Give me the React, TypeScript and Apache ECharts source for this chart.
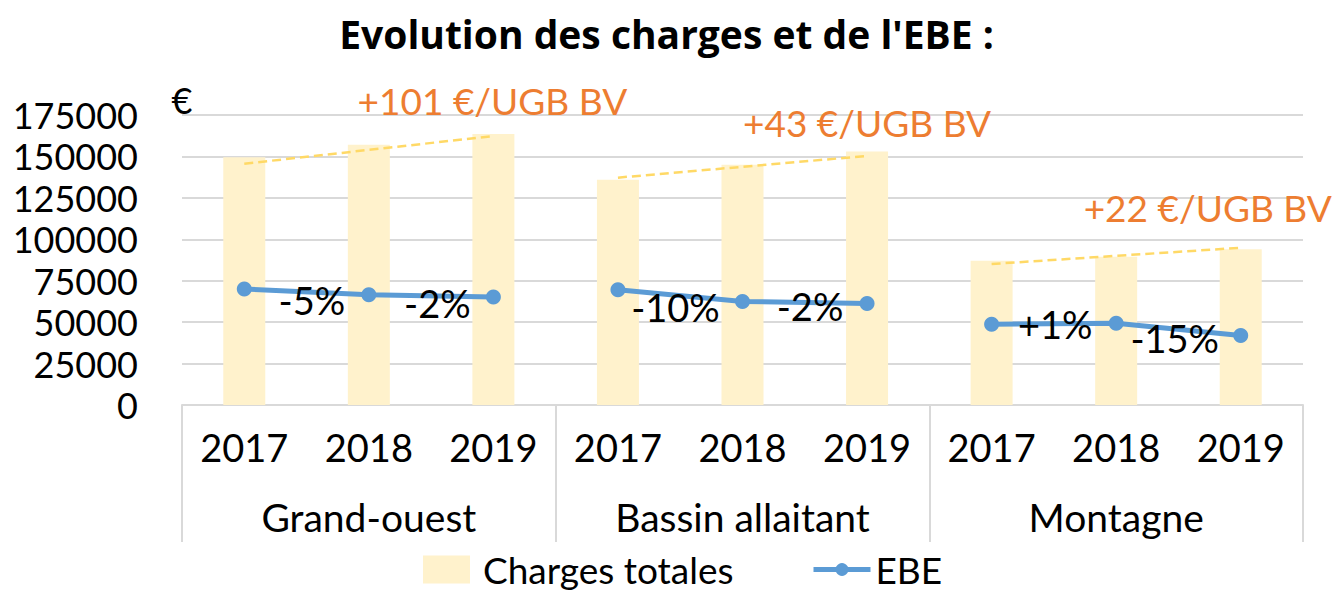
import React, { useEffect, useRef } from "react";
import * as echarts from "echarts";

const years = ["2017", "2018", "2019", "2017", "2018", "2019", "2017", "2018", "2019"];
const groups = ["Grand-ouest", "Bassin allaitant", "Montagne"];
const charges = [149500, 157000, 163500, 136000, 145000, 153000, 87000, 89500, 94000];
const ebe = [70000, 66500, 65200, 69500, 62500, 61300, 48800, 49300, 42000];
const pctLabels = ["", "-5%", "-2%", "", "-10%", "-2%", "", "+1%", "-15%"];
const pctOffsets = [[0, 0], [-57, 5], [-56, 6], [0, 0], [-67, 6], [-57, 3], [0, 0], [-61, 1], [-66, 3]];
const trendStart = [145600, 137200, 85100];
const trendEnd = [162300, 150300, 94900];
const trendLabels = ["+101 €/UGB BV", "+43 €/UGB BV", "+22 €/UGB BV"];
const trendLabelOffsets = [[-1, -36], [0, -33], [-33, -40]];
const yTicks = { min: 0, max: 175000, interval: 25000 };

const FONT = "Lato";

export default function App() {
  const ref = useRef<HTMLDivElement>(null);
  useEffect(() => {
    document.body.style.margin = "0";
    const chart = echarts.init(ref.current!, null, { renderer: "svg" });

    const ebeSeries = groups.map((g, gi) => ({
      name: "EBE",
      type: "line",
      xAxisIndex: 0,
      yAxisIndex: 0,
      symbol: "circle",
      symbolSize: 15,
      lineStyle: { color: "#5B9BD5", width: 5 },
      itemStyle: { color: "#5B9BD5" },
      z: 5,
      data: ebe.map((v, i) => {
        if (Math.floor(i / 3) !== gi) return "-";
        if (!pctLabels[i]) return v;
        return {
          value: v,
          label: {
            show: true,
            formatter: pctLabels[i],
            position: "inside",
            offset: pctOffsets[i],
            color: "#000",
            fontSize: 38,
            fontFamily: FONT,
          },
        };
      }),
    }));

    const trendSeries = groups.map((g, gi) => ({
      name: "trend" + gi,
      type: "line",
      xAxisIndex: 0,
      yAxisIndex: 0,
      symbol: "circle",
      symbolSize: 1,
      connectNulls: true,
      silent: true,
      lineStyle: { color: "#FFD966", width: 2.5, type: [9, 5] },
      itemStyle: { color: "rgba(0,0,0,0)" },
      z: 3,
      data: years.map((_, i) => {
        if (i === gi * 3) return trendStart[gi];
        if (i === gi * 3 + 2)
          return {
            value: trendEnd[gi],
            label: {
              show: true,
              formatter: trendLabels[gi],
              position: "inside",
              offset: trendLabelOffsets[gi],
              color: "#ED7D31",
              fontSize: 37,
              fontFamily: FONT,
            },
          };
        return "-";
      }),
    }));

    chart.setOption({
      animation: false,
      textStyle: { fontFamily: FONT },
      title: {
        text: "Evolution des charges et de l'EBE :",
        left: "center",
        top: 13,
        padding: 0,
        textStyle: { fontSize: 39, fontWeight: "bold", color: "#000", fontFamily: "Open Sans", lineHeight: 40 },
      },
      legend: [
        {
          data: [{ name: "Charges totales", icon: "rect" }],
          left: 423,
          top: 551,
          padding: 0,
          itemWidth: 47,
          itemHeight: 28,
          textStyle: { fontSize: 37, color: "#000", fontFamily: FONT, lineHeight: 37, padding: [0, 0, 0, 8] },
        },
        {
          data: ["EBE"],
          left: 811,
          top: 551,
          padding: 0,
          itemWidth: 57,
          itemHeight: 16,
          lineStyle: { width: 5 },
          textStyle: { fontSize: 37, color: "#000", fontFamily: FONT, lineHeight: 37 },
        },
      ],
      grid: { left: 182, right: 30, top: 115, bottom: 188, containLabel: false },
      xAxis: [
        {
          type: "category",
          data: years,
          position: "bottom",
          boundaryGap: true,
          axisLine: { show: true, lineStyle: { color: "#D9D9D9", width: 2 } },
          axisTick: { show: false },
          axisLabel: { interval: 0, margin: 23, fontSize: 38, color: "#000", fontFamily: FONT, lineHeight: 38 },
        },
        {
          type: "category",
          data: groups,
          position: "bottom",
          boundaryGap: true,
          axisLine: { show: false },
          axisTick: { show: true, length: 137, lineStyle: { color: "#D9D9D9", width: 2 } },
          axisLabel: { interval: 0, margin: 93, fontSize: 39, color: "#000", fontFamily: FONT, lineHeight: 38 },
        },
      ],
      yAxis: {
        type: "value",
        min: yTicks.min,
        max: yTicks.max,
        interval: yTicks.interval,
        name: "€",
        nameLocation: "end",
        nameGap: 15,
        nameTextStyle: { fontSize: 36, color: "#000", fontFamily: FONT, verticalAlign: "middle", align: "center" },
        axisLine: { show: false },
        axisTick: { show: false },
        splitLine: { lineStyle: { color: "#D9D9D9", width: 2 } },
        axisLabel: {
          margin: 44,
          fontSize: 36,
          color: "#000",
          fontFamily: FONT,
          formatter: (v: number) => String(v),
        },
      },
      series: [
        {
          name: "Charges totales",
          type: "bar",
          xAxisIndex: 0,
          barWidth: 42,
          itemStyle: { color: "#FFF2CC" },
          z: 1,
          data: charges,
        },
        ...trendSeries,
        ...ebeSeries,
      ],
    });
    return () => chart.dispose();
  }, []);
  return <div ref={ref} style={{ width: 1333, height: 593 }} />;
}
